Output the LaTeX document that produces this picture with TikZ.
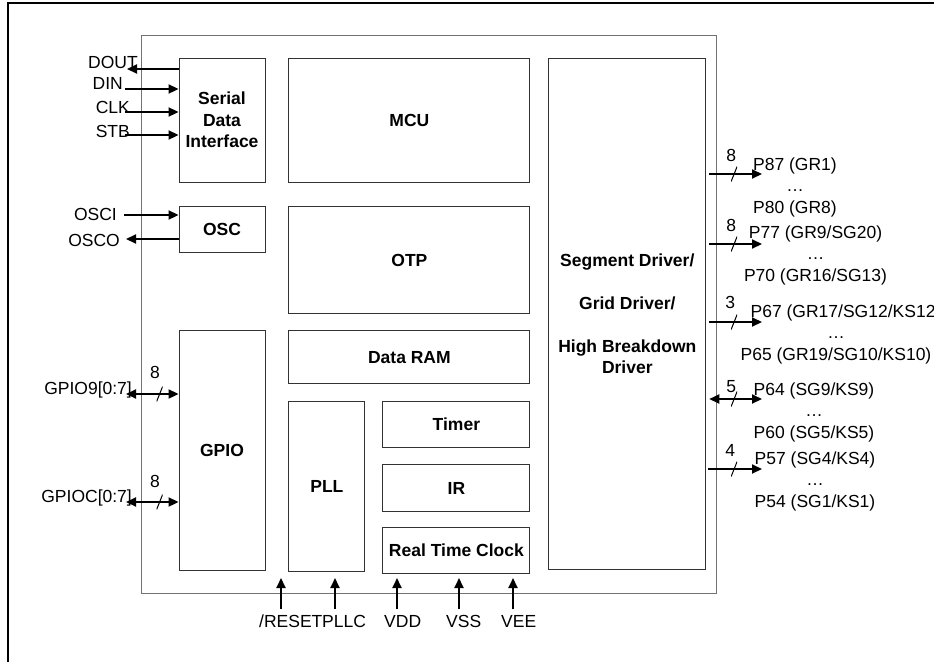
\documentclass[tikz,border=0pt]{standalone}
\usepackage{fontspec}
\setmainfont{Liberation Sans}
\usetikzlibrary{arrows.meta,positioning}

\begin{document}
\begin{tikzpicture}[x=1pt, y=-1pt,
		font=\fontsize{17.5}{21.5}\selectfont,
		>={Triangle[length=10pt,width=9pt]},
		chip/.style={draw=black!55, line width=1pt, inner sep=0},
		block/.style={draw=black!80, line width=0.9pt, inner sep=0, align=center, font=\fontsize{17.5}{21.5}\selectfont\bfseries},
		sig/.style={line width=2pt},
		lbl/.style={inner sep=0, anchor=base east},
		pin/.style={inner sep=0, anchor=base west},
		pins/.style={inner sep=0, align=center},
		digit/.style={inner sep=0, anchor=base},
		busslash/.style={inner sep=0, minimum width=6, minimum height=15,
			path picture={\draw[-, shorten <=0pt, shorten >=0pt, line width=1pt] (path picture bounding box.south west) -- (path picture bounding box.north east);}}]
			\useasboundingbox (0,0) rectangle (934,662);
			\draw[line width=1.2pt] (934,3) -- (8,3) -- (8,662);

			\node[chip, minimum width=575, minimum height=558] (chip) at (428.5,314) {};

			\node[block, minimum width=86, minimum height=124] (sdi) at (222,120) {Serial\\Data\\Interface};
			\node[block, minimum width=241, minimum height=124, right=23pt of sdi] (mcu) {MCU};
			\node[block, minimum width=157, minimum height=511, right=18pt of mcu.north east, anchor=north west] (seg) {Segment Driver/\\[21.5pt]Grid Driver/\\[21.5pt]High Breakdown\\Driver};
			\node[block, minimum width=86, minimum height=46, below=24pt of sdi] (osc) {OSC};
			\node[block, minimum width=241, minimum height=107, below=24pt of mcu] (otp) {OTP};
			\node[block, minimum width=86, minimum height=240, below=77pt of osc] (gpio) {GPIO};
			\node[block, minimum width=241, minimum height=53, below=16pt of otp] (ram) {Data RAM};
			\node[block, minimum width=76, minimum height=170, below right=17pt and 0pt of ram.south west] (pll) {PLL};
			\node[block, minimum width=147, minimum height=46, below left=17pt and 0pt of ram.south east] (timer) {Timer};
			\node[block, minimum width=147, minimum height=47, below=16pt of timer] (ir) {IR};
			\node[block, minimum width=147, minimum height=46, below=15pt of ir] (rtc) {Real Time Clock};

			\node[lbl] (doutL) at (138,68) {DOUT};
			\node[lbl] (dinL) at (123,89) {DIN};
			\node[lbl] (clkL) at (130,113) {CLK};
			\node[lbl] (stbL) at (130,137) {STB};
			\node[lbl] (osciL) at (117,220) {OSCI};
			\node[lbl] (oscoL) at (120,246) {OSCO};
			\node[lbl] (gpnineL) at (132,394) {GPIO9[0:7]};
			\node[lbl] (gpcL) at (132,502) {GPIOC[0:7]};

			\coordinate (dout) at (127,69);
			\coordinate (din) at (125,89);
			\coordinate (clk) at (125,112);
			\coordinate (stb) at (125,135);
			\coordinate (osci) at (124,215);
			\coordinate (osco) at (126,239);
			\coordinate (gpnine) at (126,394);
			\coordinate (gpc) at (126,502);

			\draw[sig,->] (sdi.west |- dout) -- (dout);
			\draw[sig,->] (din) -- (sdi.west |- din);
			\draw[sig,->] (clk) -- (sdi.west |- clk);
			\draw[sig,->] (stb) -- (sdi.west |- stb);
			\draw[sig,->] (osci) -- (osc.west |- osci);
			\draw[sig,->] (osc.west |- osco) -- (osco);
			\draw[sig,<->] (gpnine) -- node[pos=0.64, busslash] {} node[pos=0.55, digit, yshift=16pt] {8} (gpio.west |- gpnine);
			\draw[sig,<->] (gpc) -- node[pos=0.64, busslash] {} node[pos=0.55, digit, yshift=15pt] {8} (gpio.west |- gpc);

			\coordinate (pa) at (762,174);
			\coordinate (pb) at (762,244);
			\coordinate (pc) at (762,322);
			\coordinate (pd) at (762,399);
			\coordinate (pe) at (762,469);

			\draw[sig,->,shorten <=3pt] (seg.east |- pa) -- node[pos=0.5, busslash] {} node[pos=0.45, digit, yshift=13pt] {8} (pa);
			\draw[sig,->,shorten <=3pt] (seg.east |- pb) -- node[pos=0.5, busslash] {} node[pos=0.45, digit, yshift=13pt] {8} (pb);
			\draw[sig,->,shorten <=3pt] (seg.east |- pc) -- node[pos=0.5, busslash] {} node[pos=0.43, digit, yshift=14pt] {3} (pc);
			\draw[sig,<->,shorten <=3pt] (seg.east |- pd) -- node[pos=0.5, busslash] {} node[pos=0.45, digit, yshift=7pt] {5} (pd);
			\draw[sig,->,shorten <=2pt] (seg.east |- pe) -- node[pos=0.5, busslash] {} node[pos=0.43, digit, yshift=13pt] {4} (pe);

			\node[pins] (pinsA) at (795,187) {P87 (GR1)\\…\\P80 (GR8)};
			\node[pins] (pinsB) at (815.5,255) {P77 (GR9/SG20)\\…\\P70 (GR16/SG13)};
			\node[pins] (pinsC) at (836,334) {\hspace*{20pt}P67 (GR17/SG12/KS12)\\…\\P65 (GR19/SG10/KS10)};
			\node[pins] (pinsD) at (814,412) {P64 (SG9/KS9)\\…\\P60 (SG5/KS5)};
			\node[pins] (pinsE) at (815,481) {P57 (SG4/KS4)\\…\\P54 (SG1/KS1)};

			\coordinate (tipline) at (0,578);
			\coordinate (rst) at (281,609);
			\coordinate (pllc) at (335,609);
			\coordinate (vdd) at (397,609);
			\coordinate (vss) at (459,609);
			\coordinate (vee) at (513,609);

			\draw[sig,->] (rst) -- (rst |- tipline);
			\draw[sig,->] (pllc) -- (pllc |- tipline);
			\draw[sig,->] (vdd) -- (vdd |- tipline);
			\draw[sig,->] (vss) -- (vss |- tipline);
			\draw[sig,->] (vee) -- (vee |- tipline);

			\node[pin] (rstL) at (259,627) {/RESET};
			\node[pin] (pllcL) at (322,627) {PLLC};
			\node[pin] (vddL) at (384,627) {VDD};
			\node[pin] (vssL) at (446,627) {VSS};
			\node[pin] (veeL) at (501,627) {VEE};
		\end{tikzpicture}
\end{document}
